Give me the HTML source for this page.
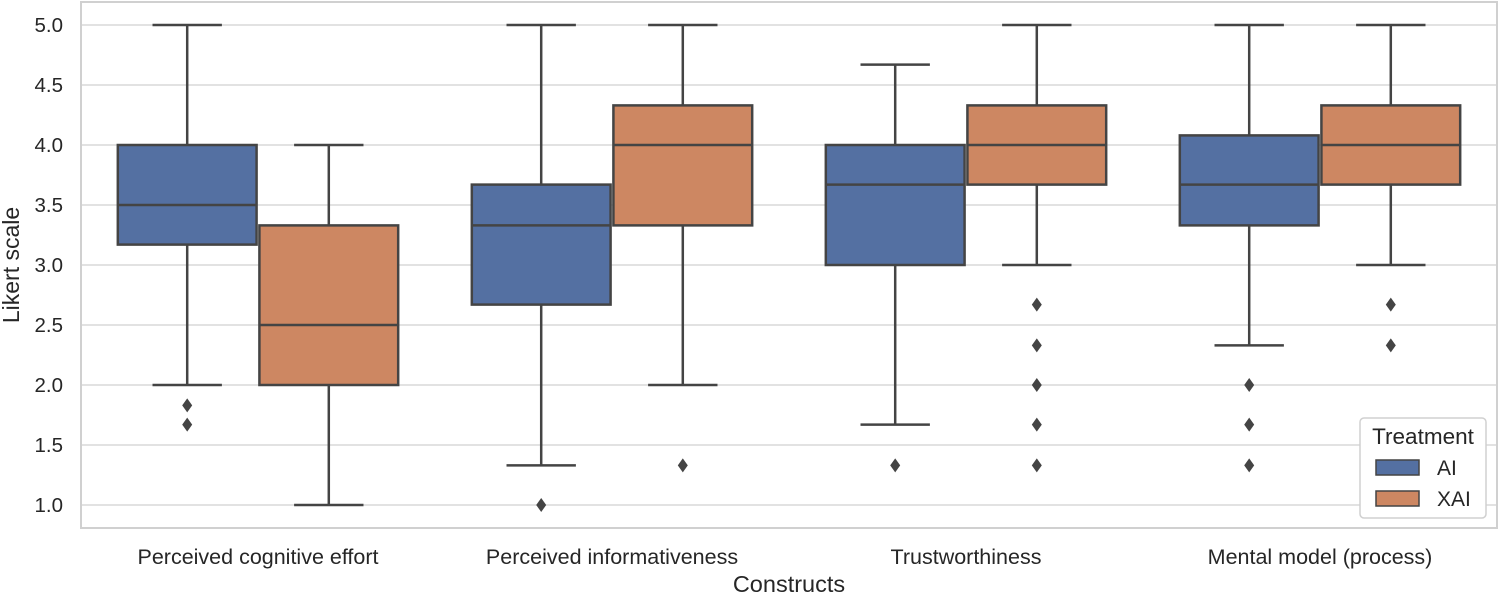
<!DOCTYPE html>
<html><head><meta charset="utf-8"><style>
body{margin:0;background:#fff}
text{font-family:"Liberation Sans",Arial,sans-serif;fill:#262626}
</style></head><body>
<svg id="chart" width="1499" height="595" xmlns="http://www.w3.org/2000/svg"></svg>
<script>
const categories=["Perceived cognitive effort","Perceived informativeness","Trustworthiness","Mental model (process)"];
const seriesNames=["AI","XAI"];
const aiStats=[[2.0,3.17,3.5,4.0,5.0],[1.33,2.67,3.33,3.67,5.0],[1.67,3.0,3.67,4.0,4.67],[2.33,3.33,3.67,4.08,5.0]];
const xaiStats=[[1.0,2.0,2.5,3.33,4.0],[2.0,3.33,4.0,4.33,5.0],[3.0,3.67,4.0,4.33,5.0],[3.0,3.67,4.0,4.33,5.0]];
const aiFliers=[[1.83,1.67],[1.0],[1.33],[2.0,1.67,1.33]];
const xaiFliers=[[],[1.33],[2.67,2.33,2.0,1.67,1.33],[2.67,2.33]];
const yTicks=[1.0,1.5,2.0,2.5,3.0,3.5,4.0,4.5,5.0];

const NS="http://www.w3.org/2000/svg";
const svg=document.getElementById('chart');
const L=81,R=1497,T=2,B=528;
const y=v=>505-(v-1)*120;
const band=(R-L)/categories.length;
const xc=i=>L+band*(i+0.5);
function mk(tag,attrs,parent){const e=document.createElementNS(NS,tag);for(const k in attrs)e.setAttribute(k,attrs[k]);(parent||svg).appendChild(e);return e;}
const gridG=mk('g',{});


yTicks.forEach(t=>{
  const l=mk('line',{x1:L,x2:R,y1:y(t),y2:y(t),stroke:'#d9d9d9','stroke-width':1.5},gridG);
  
  
  const tx=mk('text',{x:L-18,y:y(t)+7,'text-anchor':'end','font-size':20.5});
  tx.textContent=t.toFixed(1);
  
  
});
const frame=mk('rect',{x:L,y:T,width:R-L,height:B-T,fill:'none',stroke:'#d0d0d0','stroke-width':2});


const colors=["#5470a2","#cd8762"],lc="#444";
const bw=band*0.4*0.98;
function box(cx,s,fl,col,name){
  const g=mk('g',{});
  
  
  const st={stroke:lc,'stroke-width':2.5};
  mk('line',Object.assign({x1:cx,x2:cx,y1:y(s[0]),y2:y(s[1])},st),g);
  mk('line',Object.assign({x1:cx,x2:cx,y1:y(s[3]),y2:y(s[4])},st),g);
  mk('line',Object.assign({x1:cx-bw/4,x2:cx+bw/4,y1:y(s[0]),y2:y(s[0])},st),g);
  mk('line',Object.assign({x1:cx-bw/4,x2:cx+bw/4,y1:y(s[4]),y2:y(s[4])},st),g);
  mk('rect',Object.assign({x:cx-bw/2,y:y(s[3]),width:bw,height:y(s[1])-y(s[3]),fill:col},st),g);
  mk('line',Object.assign({x1:cx-bw/2,x2:cx+bw/2,y1:y(s[2]),y2:y(s[2])},st),g);
  fl.forEach(v=>{const p=mk('path',{d:`M${cx},${y(v)-7}L${cx+5},${y(v)}L${cx},${y(v)+7}L${cx-5},${y(v)}Z`,fill:lc},g);
    
    });
}
categories.forEach((c,i)=>{
  box(xc(i)-band*0.2,aiStats[i],aiFliers[i],colors[0],'box-ai-'+(i+1));
  box(xc(i)+band*0.2,xaiStats[i],xaiFliers[i],colors[1],'box-xai-'+(i+1));
  const t=mk('text',{x:xc(i),y:564,'text-anchor':'middle','font-size':21.5});
  t.textContent=c;
  
  
});
const xt=mk('text',{x:(L+R)/2,y:592,'text-anchor':'middle','font-size':23.5});
xt.textContent='Constructs';


const yt=mk('text',{x:0,y:0,'text-anchor':'middle','font-size':23,transform:`translate(19,${(T+B)/2}) rotate(-90)`});
yt.textContent='Likert scale';


const lg=mk('g',{});


mk('rect',{x:1360,y:418,width:126,height:100,rx:4,fill:'#fff',stroke:'#d0d0d0','stroke-width':1.5},lg);
const lt=mk('text',{x:1423,y:444,'text-anchor':'middle','font-size':22.5},lg);
lt.textContent='Treatment';


seriesNames.forEach((n,k)=>{
  const yy=467+k*31;
  const r=mk('rect',{x:1376,y:yy-7,width:43,height:15,fill:colors[k],stroke:lc,'stroke-width':1.5},lg);
  
  
  const t=mk('text',{x:1437,y:yy+8,'font-size':21},lg);
  t.textContent=n;
  
  
});
</script>
</body></html>
